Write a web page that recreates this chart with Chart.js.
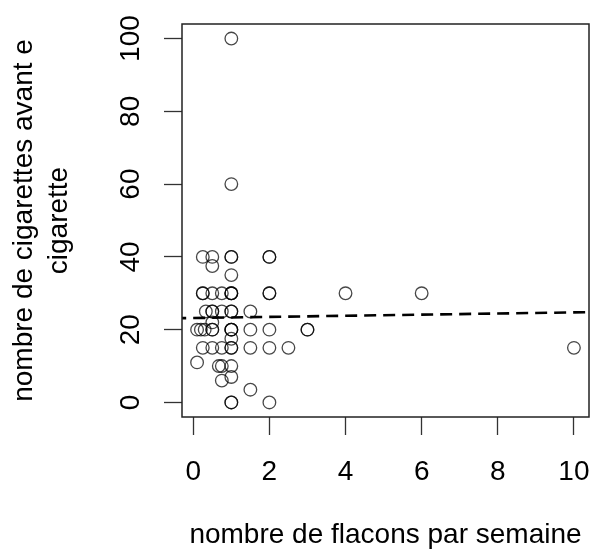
<!DOCTYPE html>
<html>
<head>
<meta charset="utf-8">
<script src="https://cdn.jsdelivr.net/npm/chart.js@4/dist/chart.umd.min.js"></script>
<style>
  html, body { margin: 0; padding: 0; background: #ffffff; }
  canvas { display: block; }
</style>
</head>
<body>
<canvas id="c" width="592" height="555"></canvas>
<script>
// ---- data ----
const flacons = [
  0.25, 0.5, 1, 1, 2, 2,
  0.5,
  1,
  0.25, 0.25, 0.5, 0.75, 1, 1, 1, 2, 2,
  0.33, 0.5, 0.5, 0.75, 1, 1, 1.5,
  0.5,
  0.1, 0.2, 0.3, 0.5, 0.5, 1, 1, 1, 1.5, 2,
  1,
  0.25, 0.5, 0.75, 1, 1, 1.5, 2, 2.5,
  0.1,
  0.67, 0.75, 1,
  0.75, 1,
  1.5,
  1, 1, 2,
  1, 1,
  3, 3, 4, 6, 10
];
const cigarettes = [
  40, 40, 40, 40, 40, 40,
  37.5,
  35,
  30, 30, 30, 30, 30, 30, 30, 30, 30,
  25, 25, 25, 25, 25, 25, 25,
  22,
  20, 20, 20, 20, 20, 20, 20, 20, 20, 20,
  17.5,
  15, 15, 15, 15, 15, 15, 15, 15,
  11,
  10, 10, 10,
  6, 7,
  3.5,
  0, 0, 0,
  100, 60,
  20, 20, 30, 30, 15
];
const trendX = [-1, 11];
const trendY = [23.05, 24.9];
const xTickValues = [0, 2, 4, 6, 8, 10];
const yTickValues = [0, 20, 40, 60, 80, 100];
const xTitle = 'nombre de flacons par semaine';
const yTitle = ['nombre de cigarettes avant e', 'cigarette'];

// ---- chart ----
const FONT = "'Liberation Sans', Arial, sans-serif";
const points = flacons.map((x, i) => ({ x: x, y: cigarettes[i] }));
const trend = trendX.map((x, i) => ({ x: x, y: trendY[i] }));

const boxPlugin = {
  id: 'box',
  afterDraw(chart) {
    const a = chart.chartArea, ctx = chart.ctx;
    ctx.save();
    ctx.strokeStyle = '#222';
    ctx.lineWidth = 1.5;
    ctx.strokeRect(a.left, a.top, a.right - a.left, a.bottom - a.top);
    ctx.restore();
  }
};

new Chart(document.getElementById('c'), {
  type: 'scatter',
  data: {
    datasets: [
      {
        data: points,
        pointStyle: 'circle',
        pointRadius: 6.3,
        pointHoverRadius: 6.3,
        pointBorderWidth: 1.3,
        pointBackgroundColor: 'rgba(0,0,0,0)',
        pointBorderColor: 'rgba(0,0,0,0.72)',
        showLine: false
      },
      {
        data: trend,
        showLine: true,
        borderColor: '#000',
        borderWidth: 2.6,
        borderDash: [12, 7],
        pointRadius: 0,
        fill: false
      }
    ]
  },
  options: {
    responsive: false,
    animation: false,
    devicePixelRatio: 1,
    layout: { autoPadding: false, padding: { top: 24, right: 3, left: 0, bottom: 0 } },
    plugins: { legend: { display: false }, tooltip: { enabled: false } },
    scales: {
      x: {
        type: 'linear',
        min: -0.296,
        max: 10.396,
        afterBuildTicks(s) { s.ticks = xTickValues.map(v => ({ value: v })); },
        afterFit(s) { s.height = 138; s.paddingLeft = 0; s.paddingRight = 0; },
        border: { display: false },
        grid: { drawOnChartArea: false, drawTicks: true, tickLength: 18, tickColor: '#333', tickWidth: 1.3 },
        ticks: { color: '#000', font: { family: FONT, size: 28 }, padding: 20, maxRotation: 0, autoSkip: false },
        title: { display: true, text: xTitle, color: '#000', font: { family: FONT, size: 28, lineHeight: 1.25 }, padding: { top: 0, bottom: 2 } }
      },
      y: {
        type: 'linear',
        min: -4,
        max: 104,
        afterBuildTicks(s) { s.ticks = yTickValues.map(v => ({ value: v })); },
        afterFit(s) { s.width = 182; s.paddingTop = 0; s.paddingBottom = 0; },
        border: { display: false },
        grid: { drawOnChartArea: false, drawTicks: true, tickLength: 18, tickColor: '#333', tickWidth: 1.3 },
        ticks: { color: '#000', font: { family: FONT, size: 28 }, padding: 9, minRotation: 90, maxRotation: 90, crossAlign: 'center', autoSkip: false },
        title: { display: true, text: yTitle, color: '#000', font: { family: FONT, size: 28, lineHeight: 1.25 }, padding: { top: 7, bottom: 0 } }
      }
    }
  },
  plugins: [boxPlugin]
});
</script>
</body>
</html>
